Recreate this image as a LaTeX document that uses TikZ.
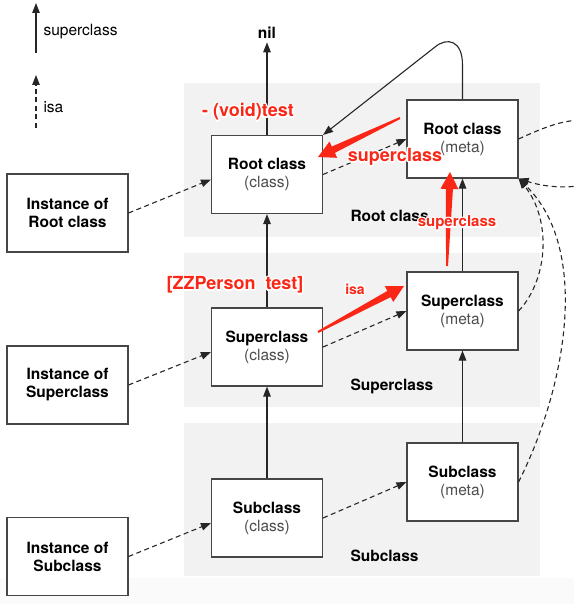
\documentclass[tikz,border=0pt]{standalone}
\usepackage{fontspec}
\setmainfont{TeX Gyre Heros}
\usetikzlibrary{arrows.meta,calc}
\definecolor{bandcol}{RGB}{242,242,242}
\definecolor{notecol}{RGB}{250,38,22}
\definecolor{boxcol}{RGB}{70,70,70}

% red text with a white halo
\newcommand{\notetext}[4]{%
  \foreach \a in {0,30,...,330}
    \node[note,#1,text=white] at ([shift={(\a:1.5)}]#3) {#4};
  \node[note,#1] (#2) at (#3) {#4};
}
% tapered red arrow, tail -> tip
\newcommand{\notearrow}[2]{%
  \coordinate (hb) at ($(#2)!17pt!(#1)$);
  \fill[notecol] ($(#1)!1pt!90:(#2)$) -- ($(hb)!3.5pt!-90:(#1)$) -- ($(hb)!9pt!-90:(#1)$)
    -- (#2) -- ($(hb)!9pt!90:(#1)$) -- ($(hb)!3.5pt!90:(#1)$) -- ($(#1)!1pt!-90:(#2)$) -- cycle;
}

\begin{document}
\begin{tikzpicture}[x=1pt, y=-1pt,
  cls/.style={rectangle, draw=boxcol, line width=1.1pt, fill=white,
              minimum width=111pt, minimum height=78pt, align=center,
              font=\fontsize{15.5}{18}\selectfont},
  inst/.style={cls, minimum width=121pt},
  band/.style={fill=bandcol},
  suparr/.style={-{Triangle[length=10pt,width=7.5pt]}, line width=1.1pt, black!85},
  isaarr/.style={suparr, dash pattern=on 5pt off 3.5pt},
  lbl/.style={font=\fontsize{15.5}{18}\selectfont},
  blbl/.style={font=\bfseries\fontsize{15.5}{18}\selectfont},
  note/.style={text=notecol, font=\bfseries\fontsize{18}{20}\selectfont}
]
\useasboundingbox (0,0) rectangle (574,604);
\clip (0,0) rectangle (574,604);

% bands
\fill[band] (184,83)  rectangle (540,237);
\fill[band] (184,253) rectangle (540,407);
\fill[band] (184,423) rectangle (540,576);
\fill[black!2] (0,578) rectangle (574,604);
\node[blbl, anchor=west] (broot)  at (347,216) {Root class};
\node[blbl, anchor=west] (bsuper) at (347,386) {Superclass};
\node[blbl, anchor=west] (bsub)   at (347,556) {Subclass};

% legend
\coordinate (ls0) at (36,53);  \coordinate (ls1) at (36,3);
\draw[suparr] (ls0) -- (ls1);
\node[lbl, anchor=west] (lsup) at (40,32) {superclass};
\coordinate (li0) at (36,128); \coordinate (li1) at (36,75);
\draw[isaarr] (li0) -- (li1);
\node[lbl, anchor=west] (lisa) at (40,107) {isa};

% boxes
\node[inst] (ir) at (67.5,213)   {\textbf{Instance of}\\\textbf{Root class}};
\node[inst] (is) at (67.5,385)   {\textbf{Instance of}\\\textbf{Superclass}};
\node[inst] (ib) at (67.5,556.5) {\textbf{Instance of}\\\textbf{Subclass}};

\node[cls] (rc) at (267,174.5) {\textbf{Root class}\\\textcolor{black!70}{(class)}};
\node[cls] (sc) at (267,347)   {\textbf{Superclass}\\\textcolor{black!70}{(class)}};
\node[cls] (bc) at (267,518)   {\textbf{Subclass}\\\textcolor{black!70}{(class)}};

\node[cls] (rm) at (462.5,139) {\textbf{Root class}\\\textcolor{black!70}{(meta)}};
\node[cls] (sm) at (462.5,311) {\textbf{Superclass}\\\textcolor{black!70}{(meta)}};
\node[cls] (bm) at (462.5,482) {\textbf{Subclass}\\\textcolor{black!70}{(meta)}};

\node[blbl] (nil) at (267,33) {nil};

% superclass chain
\draw[suparr] (bc) -- (sc);
\draw[suparr] (sc) -- (rc);
\draw[suparr] (rc) -- (nil);
\draw[suparr] (bm) -- (sm);
\draw[suparr] (sm) -- (rm);
\draw[suparr] (rm.north) -- (462.5,65) .. controls (462.5,40) and (447,37) .. (435,47) -- (rc.north east);

% isa
\draw[isaarr] (ir.east) -- ([yshift=-5pt]rc.west);
\draw[isaarr] (is.east) -- ([yshift=-5pt]sc.west);
\draw[isaarr] (ib.east) -- ([yshift=-5pt]bc.west);
\draw[isaarr] (rc.east) -- (rm.west);
\draw[isaarr] (sc.east) -- (sm.west);
\draw[isaarr] (bc.east) -- (bm.west);
\draw[isaarr] (rm.east) .. controls (560,120) and (600,105) .. (610,150)
                        .. controls (618,190) and (560,192) .. (rm.south east);
\draw[isaarr] (sm.east) .. controls (548,280) and (552,220) .. (rm.south east);
\draw[isaarr] (bm.east) .. controls (565,390) and (592,250) .. (rm.south east);

% annotations
\coordinate (n1a) at (400,118); \coordinate (n1b) at (318,157);
\notearrow{n1a}{n1b}
\coordinate (n2a) at (447,266); \coordinate (n2b) at (450,172);
\notearrow{n2a}{n2b}
\coordinate (n3a) at (318,332); \coordinate (n3b) at (404,286);
\notearrow{n3a}{n3b}

\notetext{}{nvoid}{248,112}{- (void)test}
\notetext{}{nsup1}{395,157}{superclass}
\notetext{font=\bfseries\fontsize{15}{18}\selectfont}{nsup2}{457,223}{superclass}
\notetext{}{nperson}{235,285}{[ZZPerson\ \ test]}
\notetext{font=\bfseries\fontsize{14}{17}\selectfont}{nisa}{355,289}{isa}

\end{tikzpicture}
\end{document}
